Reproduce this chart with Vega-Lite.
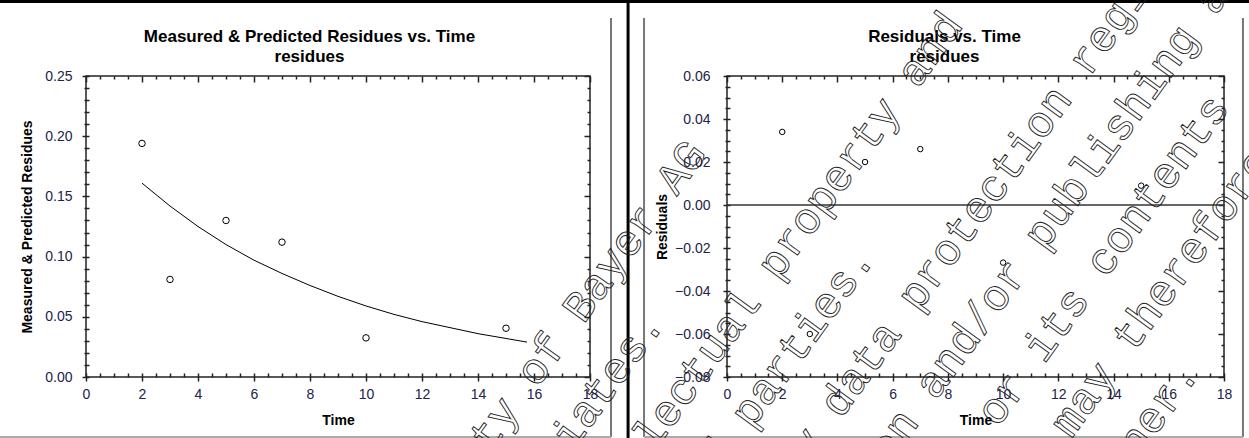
{
  "$schema": "https://vega.github.io/schema/vega-lite/v6.json",
  "autosize": "none",
  "padding": {"left": 86, "top": 76, "right": 1163, "bottom": 362},
  "background": "white",
  "bounds": "flush",
  "spacing": 137,
  "config": {
    "view": {"stroke": "#222222", "strokeWidth": 1.5},
    "font": "Liberation Sans",
    "axis": {
      "labelFont": "Liberation Sans", "labelFontSize": 14, "labelColor": "#22224a",
      "titleFont": "Liberation Sans", "titleFontSize": 14, "titleFontWeight": "bold", "titleColor": "#000000",
      "tickColor": "#222222", "tickWidth": 1.5, "grid": false, "domain": false,
      "labelOverlap": false, "labelBound": false, "labelFlush": false
    }
  },
  "hconcat": [
    {
      "width": 504,
      "height": 301,
      "layer": [
        {
          "data": {"values": [
            {"time": 2, "residue": 0.194},
            {"time": 3, "residue": 0.081},
            {"time": 5, "residue": 0.130},
            {"time": 7, "residue": 0.112},
            {"time": 10, "residue": 0.0325},
            {"time": 15, "residue": 0.0405}
          ]},
          "mark": {"type": "point", "shape": "circle", "size": 42, "filled": false, "stroke": "#000000", "strokeWidth": 1, "opacity": 1},
          "encoding": {
            "x": {"field": "time", "type": "quantitative", "scale": {"domain": [0, 18], "nice": false, "zero": false},
              "axis": {"orient": "bottom", "title": "Time", "offset": -4,
                "values": [0,0.5,1,1.5,2,2.5,3,3.5,4,4.5,5,5.5,6,6.5,7,7.5,8,8.5,9,9.5,10,10.5,11,11.5,12,12.5,13,13.5,14,14.5,15,15.5,16,16.5,17,17.5,18],
                "labelExpr": "datum.value % 2 == 0 ? format(datum.value, 'd') : ''",
                "tickSize": {"condition": {"test": "datum.value % 2 == 0", "value": 8}, "value": 4},
                "labelPadding": 6, "titlePadding": 12}},
            "y": {"field": "residue", "type": "quantitative", "scale": {"domain": [0, 0.25], "nice": false, "zero": false},
              "axis": {"orient": "left", "title": "Measured & Predicted Residues", "offset": -3,
                "values": [0,0.01,0.02,0.03,0.04,0.05,0.06,0.07,0.08,0.09,0.1,0.11,0.12,0.13,0.14,0.15,0.16,0.17,0.18,0.19,0.2,0.21,0.22,0.23,0.24,0.25],
                "labelExpr": "abs(datum.value*20 - round(datum.value*20)) < 0.000001 ? format(datum.value, '.2f') : ''",
                "tickSize": {"condition": {"test": "abs(datum.value*20 - round(datum.value*20)) < 0.000001", "value": 7}, "value": 5},
                "labelPadding": 10, "titlePadding": 10}}
          }
        },
        {
          "data": {"values": [
            {"time": 2, "predicted": 0.161},
            {"time": 3, "predicted": 0.142},
            {"time": 4, "predicted": 0.125},
            {"time": 5, "predicted": 0.110},
            {"time": 6, "predicted": 0.097},
            {"time": 7, "predicted": 0.086},
            {"time": 8, "predicted": 0.076},
            {"time": 9, "predicted": 0.067},
            {"time": 10, "predicted": 0.059},
            {"time": 11, "predicted": 0.052},
            {"time": 12, "predicted": 0.046},
            {"time": 13, "predicted": 0.041},
            {"time": 14, "predicted": 0.036},
            {"time": 15, "predicted": 0.032},
            {"time": 15.75, "predicted": 0.029}
          ]},
          "mark": {"type": "line", "color": "#000000", "strokeWidth": 1},
          "encoding": {
            "x": {"field": "time", "type": "quantitative", "scale": {"domain": [0, 18], "nice": false, "zero": false},
              "axis": {"orient": "top", "labels": false,
                "title": ["Measured & Predicted Residues vs. Time", "residues"],
                "titleFontSize": 17, "titleLineHeight": 20, "titlePadding": 10, "titleX": 223,
                "values": [0,0.5,1,1.5,2,2.5,3,3.5,4,4.5,5,5.5,6,6.5,7,7.5,8,8.5,9,9.5,10,10.5,11,11.5,12,12.5,13,13.5,14,14.5,15,15.5,16,16.5,17,17.5,18],
                "tickSize": {"condition": {"test": "datum.value % 2 == 0", "value": -6}, "value": -3}}},
            "y": {"field": "predicted", "type": "quantitative", "scale": {"domain": [0, 0.25], "nice": false, "zero": false},
              "axis": {"orient": "right", "title": null, "labels": false,
                "values": [0,0.01,0.02,0.03,0.04,0.05,0.06,0.07,0.08,0.09,0.1,0.11,0.12,0.13,0.14,0.15,0.16,0.17,0.18,0.19,0.2,0.21,0.22,0.23,0.24,0.25],
                "tickSize": {"condition": {"test": "abs(datum.value*20 - round(datum.value*20)) < 0.000001", "value": -6}, "value": -3}}}
          }
        },
        {
          "data": {"values": [{}]},
          "mark": {"type": "rule", "clip": false, "color": "#000000", "strokeWidth": 3},
          "encoding": {
            "x": {"datum": -3.2, "type": "quantitative", "axis": null},
            "x2": {"datum": 41.7},
            "y": {"datum": 0.3119, "type": "quantitative", "axis": null}
          }
        },
        {
          "data": {"values": [{}]},
          "mark": {"type": "rule", "clip": false, "color": "#000000", "strokeWidth": 3},
          "encoding": {
            "x": {"datum": 19.36, "type": "quantitative", "axis": null},
            "y": {"datum": 0.3131, "type": "quantitative", "axis": null},
            "y2": {"datum": -0.0507}
          }
        },
        {
          "data": {"values": [{}]},
          "mark": {"type": "rule", "clip": false, "color": "#777777", "strokeWidth": 2},
          "encoding": {
            "x": {"datum": 18.75, "type": "quantitative", "axis": null},
            "y": {"datum": 0.2982, "type": "quantitative", "axis": null},
            "y2": {"datum": -0.0498}
          }
        },
        {
          "data": {"values": [{}]},
          "mark": {"type": "rule", "clip": false, "color": "#777777", "strokeWidth": 2},
          "encoding": {
            "x": {"datum": 19.93, "type": "quantitative", "axis": null},
            "y": {"datum": 0.2982, "type": "quantitative", "axis": null},
            "y2": {"datum": -0.0498}
          }
        },
        {
          "data": {"values": [{}]},
          "mark": {"type": "rule", "clip": false, "color": "#777777", "strokeWidth": 2},
          "encoding": {
            "x": {"datum": 41.32, "type": "quantitative", "axis": null},
            "y": {"datum": 0.2982, "type": "quantitative", "axis": null},
            "y2": {"datum": -0.0498}
          }
        },
        {
          "data": {"values": [{}]},
          "mark": {"type": "rule", "clip": false, "color": "#aaaaaa", "strokeWidth": 2},
          "encoding": {
            "x": {"datum": -3.2, "type": "quantitative", "axis": null},
            "x2": {"datum": 18.75},
            "y": {"datum": -0.0498, "type": "quantitative", "axis": null}
          }
        },
        {
          "data": {"values": [{}]},
          "mark": {"type": "rule", "clip": false, "color": "#aaaaaa", "strokeWidth": 2},
          "encoding": {
            "x": {"datum": 19.93, "type": "quantitative", "axis": null},
            "x2": {"datum": 41.32},
            "y": {"datum": -0.0498, "type": "quantitative", "axis": null}
          }
        }
      ],
      "resolve": {"axis": {"x": "independent", "y": "independent"}}
    },
    {
      "width": 497,
      "height": 301,
      "layer": [
        {
          "data": {"values": [
            {"time": 2, "residual": 0.034},
            {"time": 3, "residual": -0.060},
            {"time": 5, "residual": 0.020},
            {"time": 7, "residual": 0.026},
            {"time": 10, "residual": -0.0268},
            {"time": 15, "residual": 0.009}
          ]},
          "mark": {"type": "point", "shape": "circle", "size": 30, "filled": false, "stroke": "#000000", "strokeWidth": 1, "opacity": 1},
          "encoding": {
            "x": {"field": "time", "type": "quantitative", "scale": {"domain": [0, 18], "nice": false, "zero": false},
              "axis": {"orient": "bottom", "title": "Time", "offset": -4,
                "values": [0,0.5,1,1.5,2,2.5,3,3.5,4,4.5,5,5.5,6,6.5,7,7.5,8,8.5,9,9.5,10,10.5,11,11.5,12,12.5,13,13.5,14,14.5,15,15.5,16,16.5,17,17.5,18],
                "labelExpr": "datum.value % 2 == 0 ? format(datum.value, 'd') : ''",
                "tickSize": {"condition": {"test": "datum.value % 2 == 0", "value": 8}, "value": 4},
                "labelPadding": 6, "titlePadding": 12}},
            "y": {"field": "residual", "type": "quantitative", "scale": {"domain": [-0.08, 0.06], "nice": false, "zero": false},
              "axis": {"orient": "left", "title": "Residuals", "offset": -3,
                "values": [-0.08,-0.075,-0.07,-0.065,-0.06,-0.055,-0.05,-0.045,-0.04,-0.035,-0.03,-0.025,-0.02,-0.015,-0.01,-0.005,0,0.005,0.01,0.015,0.02,0.025,0.03,0.035,0.04,0.045,0.05,0.055,0.06],
                "labelExpr": "abs(datum.value*50 - round(datum.value*50)) < 0.000001 ? format(datum.value, '.2f') : ''",
                "tickSize": {"condition": {"test": "abs(datum.value*50 - round(datum.value*50)) < 0.000001", "value": 7}, "value": 5},
                "labelPadding": 13, "titlePadding": 5}}
          }
        },
        {
          "data": {"values": [{}]},
          "mark": {"type": "rule", "color": "#333333", "strokeWidth": 1.5},
          "encoding": {
            "x": {"datum": 0, "type": "quantitative", "scale": {"domain": [0, 18], "nice": false, "zero": false},
              "axis": {"orient": "top", "labels": false,
                "title": ["Residuals vs. Time", "residues"],
                "titleFontSize": 17, "titleLineHeight": 20, "titlePadding": 10, "titleX": 217,
                "values": [0,0.5,1,1.5,2,2.5,3,3.5,4,4.5,5,5.5,6,6.5,7,7.5,8,8.5,9,9.5,10,10.5,11,11.5,12,12.5,13,13.5,14,14.5,15,15.5,16,16.5,17,17.5,18],
                "tickSize": {"condition": {"test": "datum.value % 2 == 0", "value": -6}, "value": -3}}},
            "x2": {"datum": 18},
            "y": {"datum": 0, "type": "quantitative", "scale": {"domain": [-0.08, 0.06], "nice": false, "zero": false},
              "axis": {"orient": "right", "title": null, "labels": false,
                "values": [-0.08,-0.075,-0.07,-0.065,-0.06,-0.055,-0.05,-0.045,-0.04,-0.035,-0.03,-0.025,-0.02,-0.015,-0.01,-0.005,0,0.005,0.01,0.015,0.02,0.025,0.03,0.035,0.04,0.045,0.05,0.055,0.06],
                "tickSize": {"condition": {"test": "abs(datum.value*50 - round(datum.value*50)) < 0.000001", "value": -6}, "value": -3}}}
          }
        },
        {
          "data": {"values": [
            {"line": "This document is the property of Bayer AG", "t": -12.604, "r": -0.17647},
            {"line": "and/or any of its affiliates.", "t": -10.757, "r": -0.19600},
            {"line": "It may be subject to rights such as intellectual property and", "t": -8.928, "r": -0.21591},
            {"line": "copyright of the owner and third parties.", "t": -6.508, "r": -0.22530},
            {"line": "Furthermore, this document may fall under a regulatory data protection regime.", "t": -5.255, "r": -0.25535},
            {"line": "Consequently, any publication, distribution, reproduction and/or publishing and", "t": -3.216, "r": -0.27153},
            {"line": "any commercial exploitation and use of this document or its contents", "t": -1.260, "r": -0.28921},
            {"line": "without the permission of the owner of this document may therefore", "t": 0.844, "r": -0.30423},
            {"line": "be prohibited and violate the rights of its owner.", "t": 2.713, "r": -0.32340}
          ]},
          "mark": {"type": "text", "clip": false, "angle": -54, "font": "Liberation Mono", "fontSize": 44, "align": "center", "baseline": "middle", "fill": "#ffffff", "fillOpacity": 0, "stroke": "#222222", "strokeWidth": 0.9},
          "encoding": {
            "x": {"field": "t", "type": "quantitative", "axis": null},
            "y": {"field": "r", "type": "quantitative", "axis": null},
            "text": {"field": "line"}
          }
        }
      ],
      "resolve": {"axis": {"x": "independent", "y": "independent"}}
    }
  ]
}
